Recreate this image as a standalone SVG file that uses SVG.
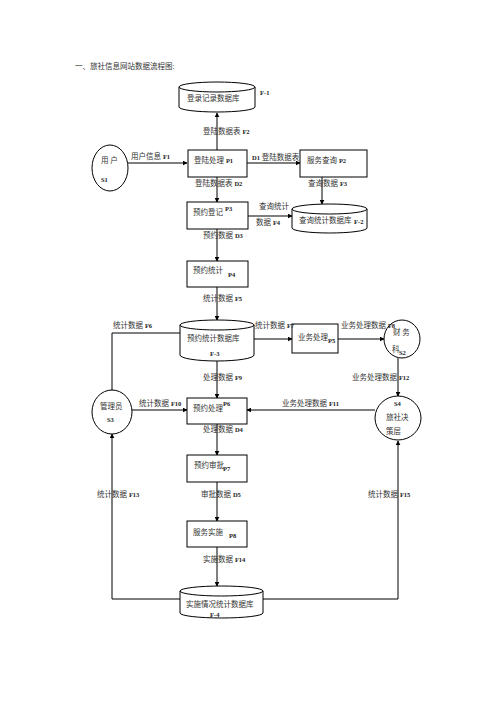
<svg xmlns="http://www.w3.org/2000/svg" width="496" height="702" viewBox="0 0 496 702">
<defs>
<marker id="ah" viewBox="0 0 8 8" refX="7" refY="4" markerWidth="5" markerHeight="5" orient="auto" markerUnits="userSpaceOnUse">
<path d="M0,0 L8,4 L0,8 z" fill="#000"/>
</marker>
<style>
text{font-family:"Liberation Serif","Noto Sans CJK SC",serif;font-size:7.5px;fill:#333}
.s{font-size:6.5px;font-weight:bold;fill:#222}
.box{fill:#fff;stroke:#000;stroke-width:1}
.el{fill:#fff;stroke:#000;stroke-width:1}
.ln{fill:none;stroke:#000;stroke-width:1}
.lh{fill:none;stroke:#555;stroke-width:1.6}
.ar{marker-end:url(#ah)}
</style>
</defs>
<rect width="496" height="702" fill="#fff"/>
<text x="75" y="69">一、旅社信息网站数据流程图:</text>

<g id="connectors">
<path class="ln ar" d="M217,150 V113"/>
<path class="lh ar" d="M128,163 H187"/>
<path class="lh ar" d="M247,163 H300"/>
<path class="ln ar" d="M217,177 V202"/>
<path class="ln ar" d="M322,177 V204"/>
<path class="lh ar" d="M248,216 H292"/>
<path class="ln ar" d="M217,229 V261"/>
<path class="ln ar" d="M217,287 V320"/>
<path class="ln ar" d="M180,333 H112 V394"/>
<path class="ln ar" d="M254,339 H292"/>
<path class="ln ar" d="M338,339 H384"/>
<path class="ln ar" d="M398,358 V396"/>
<path class="ln ar" d="M217,361 V398"/>
<path class="lh ar" d="M132,410 H187"/>
<path class="lh ar" d="M375,410 H247"/>
<path class="ln ar" d="M217,424 V455"/>
<path class="ln ar" d="M217,482 V521"/>
<path class="ln ar" d="M217,547 V586"/>
<path class="ln ar" d="M180,599 H112 V434"/>
<path class="ln ar" d="M263,599 H398 V441"/>
</g>

<g id="DB-F1">
<path class="el" d="M179,87 V107 A38,5 0 0 0 255,107 V87"/>
<ellipse class="el" cx="217" cy="87" rx="38" ry="5"/>
<text x="187" y="101">登录记录数据库</text>
<text class="s" x="260" y="95">F-1</text>
</g>

<g id="S1">
<ellipse class="el" cx="110" cy="168" rx="18" ry="23"/>
<text x="101" y="163">用 户</text>
<text class="s" x="101" y="182">S1</text>
</g>

<g id="P1">
<rect class="box" x="188" y="150" width="59" height="27"/>
<text x="194" y="163">登陆处理 <tspan class="s">P1</tspan></text>
</g>

<g id="P2">
<rect class="box" x="300" y="150" width="67" height="27"/>
<text x="307" y="163">服务查询 <tspan class="s">P2</tspan></text>
</g>

<g id="P3">
<rect class="box" x="187" y="202" width="61" height="27"/>
<text x="193" y="215">预约登记</text>
<text class="s" x="225" y="211">P3</text>
</g>

<g id="DB-F2">
<path class="el" d="M292,209 V228 A37.5,5 0 0 0 367,228 V209"/>
<ellipse class="el" cx="329.5" cy="209" rx="37.5" ry="5"/>
<text x="299" y="223">查询统计数据库</text>
<text class="s" x="354" y="224">F-2</text>
</g>

<g id="P4">
<rect class="box" x="187" y="261" width="61" height="26"/>
<text x="193" y="273">预约统计</text>
<text class="s" x="228" y="277">P4</text>
</g>

<g id="DB-F3">
<path class="el" d="M180,325 V355 A37,6 0 0 0 254,355 V325"/>
<ellipse class="el" cx="217" cy="325" rx="37" ry="5"/>
<text x="187" y="341">预约统计数据库</text>
<text class="s" x="210" y="356">F-3</text>
</g>

<g id="P5">
<rect class="box" x="292" y="324" width="46" height="29"/>
<text x="298" y="340">业务处理</text>
<text class="s" x="328" y="343">P5</text>
</g>

<g id="S2">
<ellipse class="el" cx="402" cy="339" rx="18" ry="19"/>
<text x="393" y="335">财 务</text>
<text x="392" y="352">科</text>
<text class="s" x="399" y="355">S2</text>
</g>

<g id="S3">
<ellipse class="el" cx="112" cy="412" rx="20" ry="22"/>
<text x="100" y="409">管理员</text>
<text class="s" x="107" y="422">S3</text>
</g>

<g id="P6">
<rect class="box" x="187" y="398" width="60" height="26"/>
<text x="193" y="411">预约处理</text>
<text class="s" x="223" y="406">P6</text>
</g>

<g id="S4">
<ellipse class="el" cx="398" cy="418" rx="23" ry="22"/>
<text class="s" x="394" y="406">S4</text>
<text x="386" y="420">旅社决</text>
<text x="386" y="434">策层</text>
</g>

<g id="P7">
<rect class="box" x="187" y="455" width="60" height="27"/>
<text x="194" y="468">预约审批</text>
<text class="s" x="223" y="471">P7</text>
</g>

<g id="P8">
<rect class="box" x="187" y="521" width="60" height="26"/>
<text x="193" y="535">服务实施</text>
<text class="s" x="229" y="538">P8</text>
</g>

<g id="DB-F4">
<path class="el" d="M180,591 V613 A41.5,5 0 0 0 263,613 V591"/>
<ellipse class="el" cx="221.5" cy="591" rx="41.5" ry="5"/>
<text x="186" y="607">实施情况统计数据库</text>
<text class="s" x="210" y="617">F-4</text>
</g>

<g id="labels">
<text x="203" y="134">登陆数据表 <tspan class="s">F2</tspan></text>
<text x="131" y="159">用户信息 <tspan class="s">F1</tspan></text>
<text x="252" y="160"><tspan class="s">D1</tspan> 登陆数据表</text>
<text x="195" y="186">登陆数据表 <tspan class="s">D2</tspan></text>
<text x="308" y="186">查询数据 <tspan class="s">F3</tspan></text>
<text x="259" y="209">查询统计</text>
<text x="256" y="225">数据 <tspan class="s">F4</tspan></text>
<text x="203" y="238">预约数据 <tspan class="s">D3</tspan></text>
<text x="203" y="301">统计数据 <tspan class="s">F5</tspan></text>
<text x="113" y="328">统计数据 <tspan class="s">F6</tspan></text>
<text x="255" y="328">统计数据 <tspan class="s">F7</tspan></text>
<text x="341" y="328">业务处理数据 <tspan class="s">F8</tspan></text>
<text x="203" y="380">处理数据 <tspan class="s">F9</tspan></text>
<text x="352" y="380">业务处理数据 <tspan class="s">F12</tspan></text>
<text x="139" y="406">统计数据 <tspan class="s">F10</tspan></text>
<text x="282" y="406">业务处理数据 <tspan class="s">F11</tspan></text>
<text x="203" y="432">处理数据 <tspan class="s">D4</tspan></text>
<text x="201" y="497">审批数据 <tspan class="s">D5</tspan></text>
<text x="97" y="497">统计数据 <tspan class="s">F13</tspan></text>
<text x="368" y="497">统计数据 <tspan class="s">F15</tspan></text>
<text x="203" y="562">实施数据 <tspan class="s">F14</tspan></text>
</g>
</svg>
